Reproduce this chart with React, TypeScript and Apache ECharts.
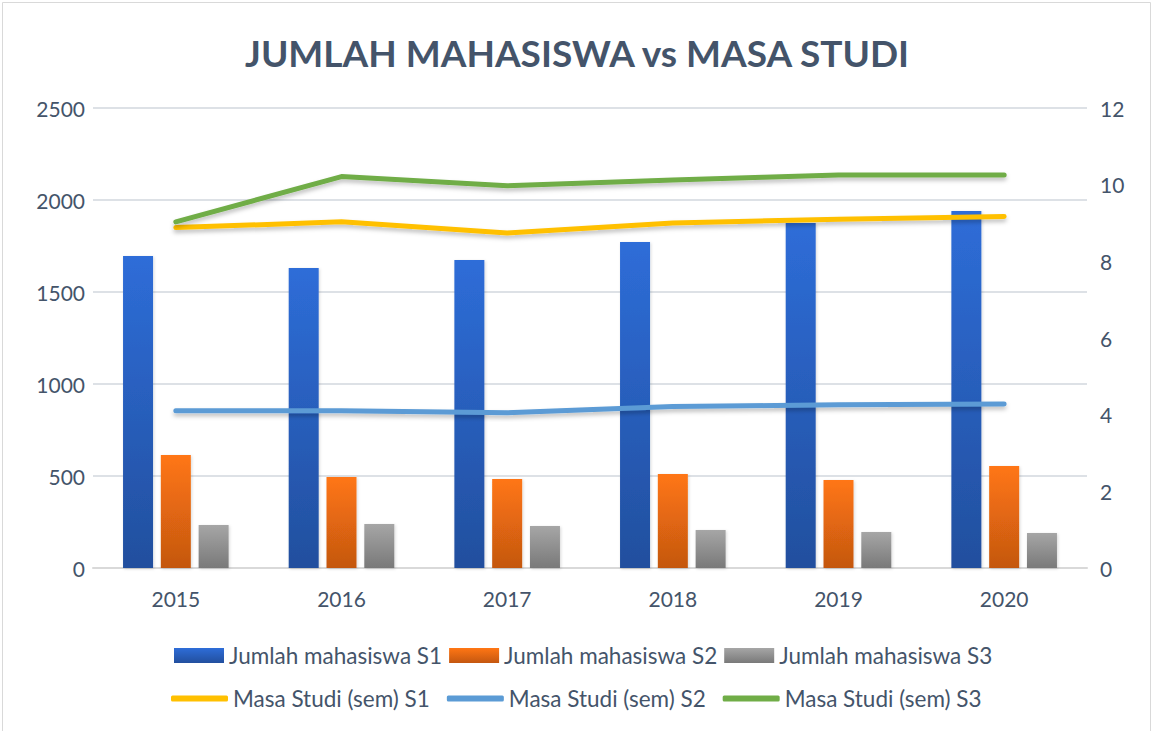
import React, { useEffect, useRef } from "react";
import * as echarts from "echarts";

const years = ["2015", "2016", "2017", "2018", "2019", "2020"];
const jumlahS1 = [1696, 1630, 1674, 1772, 1875, 1940];
const jumlahS2 = [614, 495, 484, 511, 478, 554];
const jumlahS3 = [234, 239, 228, 207, 196, 190];
const masaS1 = [8.88, 9.03, 8.74, 9.0, 9.1, 9.17];
const masaS2 = [4.1, 4.1, 4.05, 4.21, 4.26, 4.28];
const masaS3 = [9.03, 10.21, 9.97, 10.12, 10.25, 10.25];

const FONT = "Lato, 'Open Sans', sans-serif";
const TXT = "#44546A";

const grad = (top: string, bottom: string) =>
  new echarts.graphic.LinearGradient(0, 0, 0, 1, [
    { offset: 0, color: top },
    { offset: 1, color: bottom },
  ]);

export default function App() {
  const ref = useRef<HTMLDivElement>(null);
  useEffect(() => {
    if (!ref.current) return;
    const chart = echarts.init(ref.current, null, { renderer: "svg" });
    const barCommon = {
      type: "bar" as const,
      barWidth: 30,
      barGap: "26%",
      yAxisIndex: 0,
    };
    const lineCommon = {
      type: "line" as const,
      yAxisIndex: 1,
      symbol: "none",
      smooth: false,
      z: 5,
    };
    const lineStyle = (color: string) => ({
      color,
      width: 5,
      cap: "round" as const,
      join: "round" as const,
      shadowColor: "rgba(0,0,0,0.25)",
      shadowBlur: 4,
      shadowOffsetY: 3,
    });
    chart.setOption({
      animation: false,
      backgroundColor: "#ffffff",
      title: {
        text: "JUMLAH MAHASISWA vs MASA STUDI",
        left: "center",
        top: 29,
        textStyle: {
          fontFamily: FONT,
          fontSize: 37,
          fontWeight: "bold",
          color: "#44546A",
        },
      },
      graphic: [
        {
          type: "rect",
          shape: { x: 2.5, y: 2.5, width: 1148, height: 740 },
          style: { fill: "none", stroke: "#D9D9D9", lineWidth: 1 },
          silent: true,
        },
      ],
      grid: { left: 93, right: 67, top: 108, bottom: 163, containLabel: false },
      legend: [
        {
          data: ["Jumlah mahasiswa S1", "Jumlah mahasiswa S2", "Jumlah mahasiswa S3"],
          left: 169,
          top: 639,
          icon: "rect",
          itemWidth: 50,
          itemHeight: 15,
          itemGap: 7,
          textStyle: { fontFamily: FONT, fontSize: 22.5, color: TXT },
        },
        {
          data: ["Masa Studi (sem) S1", "Masa Studi (sem) S2", "Masa Studi (sem) S3"],
          left: 166,
          top: 682,
          icon: "roundRect",
          itemWidth: 57,
          itemHeight: 6,
          itemGap: 17,
          textStyle: { fontFamily: FONT, fontSize: 22.5, color: TXT },
        },
      ],
      xAxis: {
        type: "category",
        data: years,
        axisLine: { lineStyle: { color: "#D9D9D9", width: 2 } },
        axisTick: { show: false },
        axisLabel: { fontFamily: FONT, fontSize: 21, color: TXT, margin: 20 },
      },
      yAxis: [
        {
          type: "value",
          min: 0,
          max: 2500,
          interval: 500,
          axisLine: { show: false },
          axisTick: { show: false },
          axisLabel: {
            fontFamily: FONT,
            fontSize: 21,
            color: TXT,
            margin: 8,
            formatter: (v: number) => String(v),
          },
          splitLine: { lineStyle: { color: "#DDE1E6", width: 2 } },
        },
        {
          type: "value",
          min: 0,
          max: 12,
          interval: 2,
          axisLine: { show: false },
          axisTick: { show: false },
          axisLabel: {
            fontFamily: FONT,
            fontSize: 21,
            color: TXT,
            margin: 13,
            formatter: (v: number) => String(v),
          },
          splitLine: { show: false },
        },
      ],
      series: [
        {
          ...barCommon,
          name: "Jumlah mahasiswa S1",
          data: jumlahS1,
          itemStyle: { color: grad("#2E6DD8", "#224F9E"), shadowColor: "rgba(0,0,0,0.15)", shadowBlur: 3, shadowOffsetX: 1, shadowOffsetY: 1 },
        },
        {
          ...barCommon,
          name: "Jumlah mahasiswa S2",
          data: jumlahS2,
          itemStyle: { color: grad("#FF7614", "#C45710"), shadowColor: "rgba(0,0,0,0.15)", shadowBlur: 3, shadowOffsetX: 1, shadowOffsetY: 1 },
        },
        {
          ...barCommon,
          name: "Jumlah mahasiswa S3",
          data: jumlahS3,
          itemStyle: { color: grad("#A6A6A6", "#797979"), shadowColor: "rgba(0,0,0,0.15)", shadowBlur: 3, shadowOffsetX: 1, shadowOffsetY: 1 },
        },
        {
          ...lineCommon,
          name: "Masa Studi (sem) S1",
          data: masaS1,
          itemStyle: { color: "#FFC000" },
          lineStyle: lineStyle("#FFC000"),
        },
        {
          ...lineCommon,
          name: "Masa Studi (sem) S2",
          data: masaS2,
          itemStyle: { color: "#5B9BD5" },
          lineStyle: lineStyle("#5B9BD5"),
        },
        {
          ...lineCommon,
          name: "Masa Studi (sem) S3",
          data: masaS3,
          itemStyle: { color: "#70AD47" },
          lineStyle: lineStyle("#70AD47"),
        },
      ],
    });
    return () => chart.dispose();
  }, []);
  return (
    <div
      ref={ref}
      style={{ position: "fixed", left: 0, top: 0, width: 1154, height: 731 }}
    />
  );
}
